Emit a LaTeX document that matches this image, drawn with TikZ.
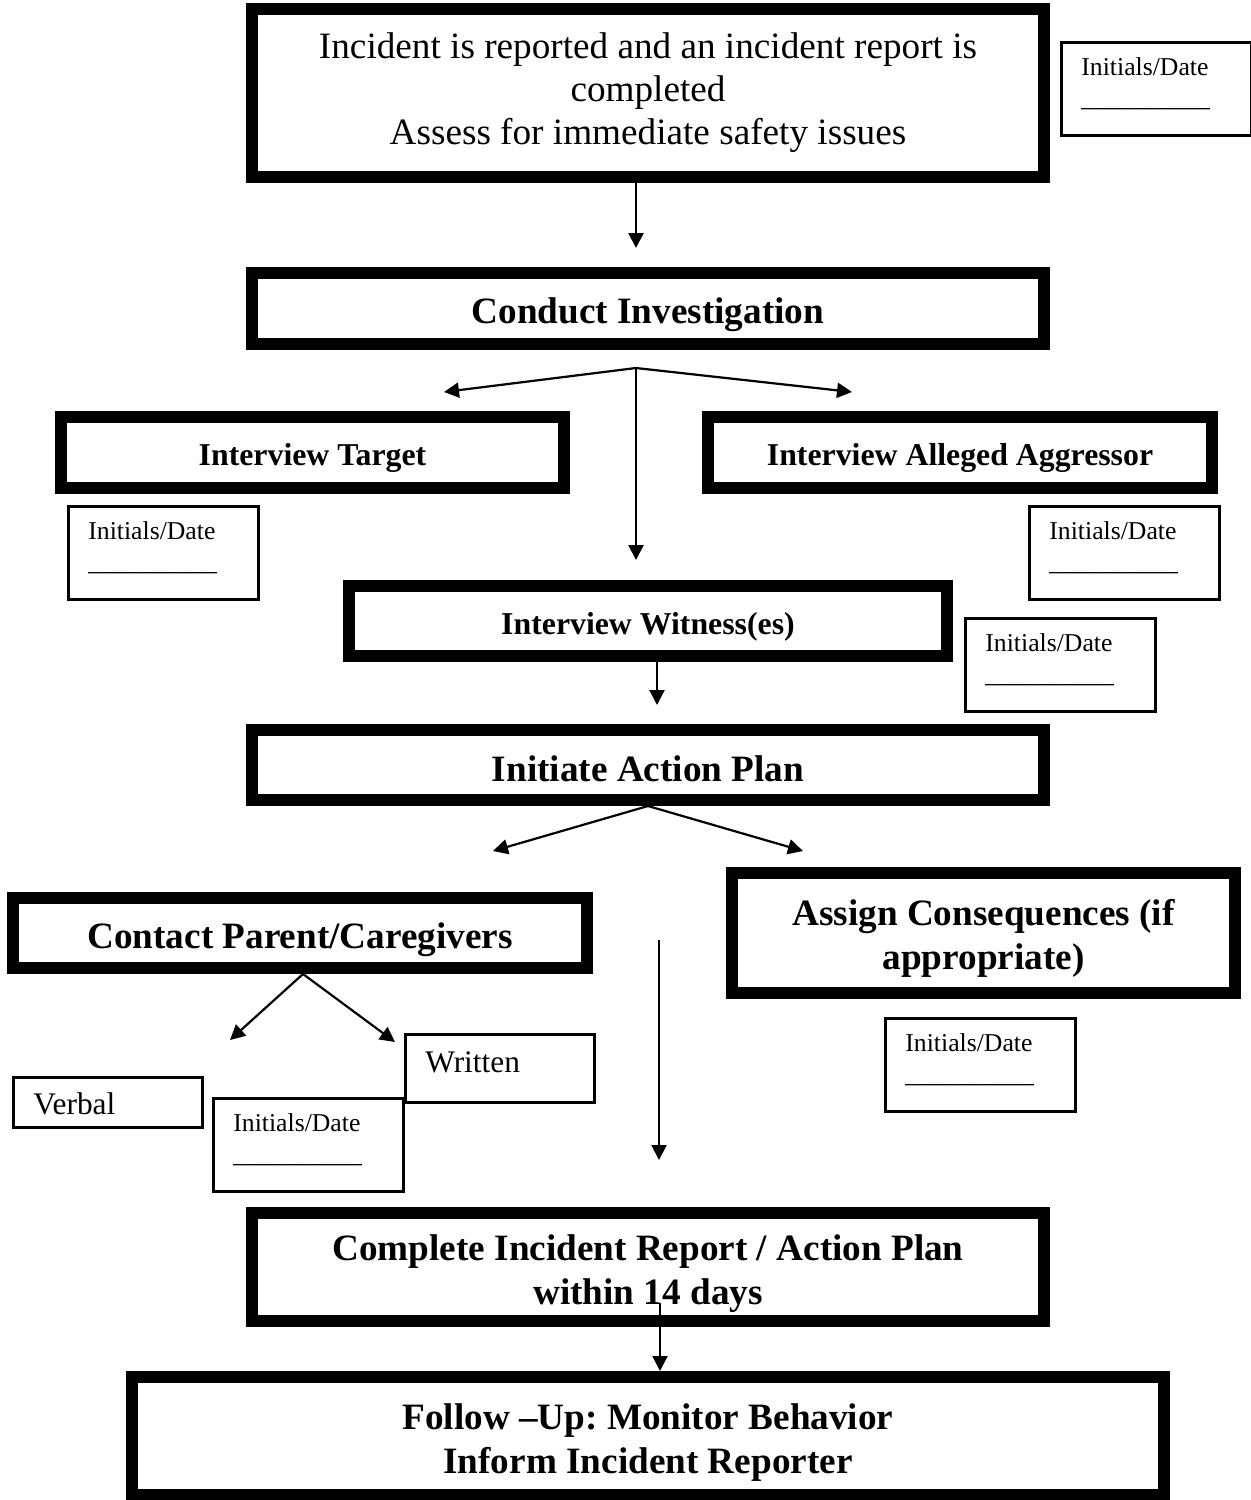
\documentclass[tikz,border=0pt]{standalone}
\usepackage{fontspec}
\setmainfont{Liberation Serif}
\usetikzlibrary{arrows.meta,calc}
\frenchspacing
\newcommand{\stt}{\rule{0pt}{1.04em}}
\newcommand{\sttd}{\rule[-0.15em]{0pt}{0.15em}}
\newcommand{\InitBox}[3]{%
  \node[thinbox, anchor=north west] (#1) at (#2,#3) {};
  \node[small] (#1t) at ($(#1.north west)+(21,34)$) {Initials/Date};
  \node[small] (#1u) at ($(#1.north west)+(21,65)$) {\_\_\_\_\_\_\_\_\_\_};
}
\begin{document}
\begin{tikzpicture}[x=0.5pt,y=-0.5pt,
  bigbox/.style={draw, line width=6pt, inner sep=0pt, align=center},
  big/.style={font=\fontsize{18.6}{21.5}\selectfont},
  bigb/.style={font=\bfseries\fontsize{18.6}{21.8}\selectfont},
  medb/.style={font=\bfseries\fontsize{15.9}{19}\selectfont},
  thinbox/.style={draw, line width=1.5pt, inner sep=0pt, minimum width=95pt, minimum height=46.5pt},
  small/.style={font=\fontsize{12.85}{15}\selectfont, inner sep=0pt, anchor=base west},
  plaintext/.style={font=\fontsize{15.7}{19}\selectfont, inner sep=0pt, anchor=base west},
  arr/.style={line width=1.1pt, -{Triangle[length=7.5pt,width=7.5pt]}}]
\useasboundingbox (0,0) rectangle (1250,1500);

% thick boxes
\node[bigbox, big, minimum width=396pt, minimum height=84pt] (box1) at (648,93)
  {Incident is reported and an incident report is\\ completed\\ Assess for immediate safety issues};
\node[bigbox, bigb, minimum width=396pt, minimum height=35.5pt] (conduct) at (648,308.5) {\stt Conduct Investigation};
\node[bigbox, medb, minimum width=251.5pt, minimum height=35.5pt] (target) at (312.5,452.5) {\stt Interview Target};
\node[bigbox, medb, minimum width=252pt, minimum height=35.5pt] (aggressor) at (960,452.5) {\stt Interview Alleged Aggressor};
\node[bigbox, medb, minimum width=299pt, minimum height=35pt] (witness) at (648,621) {\stt Interview Witness(es)};
\node[bigbox, bigb, minimum width=396pt, minimum height=35pt] (initiate) at (648,765) {\stt Initiate Action Plan\sttd};
\node[bigbox, bigb, minimum width=287pt, minimum height=35pt] (contact) at (300,933) {\stt Contact Parent/Caregivers};
\node[bigbox, bigb, font=\bfseries\fontsize{18.6}{22}\selectfont, minimum width=251.5pt, minimum height=60pt] (assign) at (983.5,933) {\rule{0pt}{0.965em}Assign Consequences (if\\ appropriate)};
\node[bigbox, bigb, minimum width=396pt, minimum height=54pt] (complete) at (648,1267) {\stt Complete Incident Report / Action Plan\\ within 14 days};
\node[bigbox, bigb, minimum width=516pt, minimum height=59pt] (follow) at (648,1436) {\stt Follow –Up: Monitor Behavior\\ Inform Incident Reporter};

% initials boxes
\InitBox{ia}{1060}{41}
\InitBox{ib}{67}{505}
\InitBox{ic}{1028}{505}
\InitBox{id}{964}{617}
\InitBox{ie}{212}{1097}
\InitBox{iff}{884}{1017}

% verbal / written
\node[draw, line width=1.5pt, inner sep=0pt, minimum width=94.5pt, minimum height=25pt] (verbal) at (108,1102.5) {};
\node[plaintext] (verbalt) at (33,1114) {Verbal};
\node[draw, line width=1.5pt, inner sep=0pt, minimum width=94.5pt, minimum height=34pt] (written) at (500,1068.5) {};
\node[plaintext] (writtent) at (425,1072) {Written};

% connectors
\coordinate (a1) at (636,248);
\draw[arr] (box1.south -| a1) -- (a1);

\coordinate (f1) at (636,368);
\coordinate (f1l) at (444,392);
\coordinate (f1r) at (852,392);
\coordinate (f1d) at (636,560);
\draw[arr] (f1) -- (f1l);
\draw[arr] (f1) -- (f1r);
\draw[arr] (f1) -- (f1d);

\coordinate (a2) at (657,705);
\draw[arr] (witness.south -| a2) -- (a2);

\coordinate (f2l) at (493,851);
\coordinate (f2r) at (803,851);
\draw[arr] (initiate.south) -- (f2l);
\draw[arr] (initiate.south) -- (f2r);

\coordinate (f3) at (303,974);
\coordinate (f3l) at (230,1040);
\coordinate (f3r) at (395,1042);
\draw[arr] (f3) -- (f3l);
\draw[arr] (f3) -- (f3r);

\coordinate (l1) at (659,940);
\coordinate (l2) at (659,1160);
\draw[arr] (l1) -- (l2);

\coordinate (a3) at (660,1303);
\draw[arr] (a3) -- (a3 |- follow.north);
\end{tikzpicture}
\end{document}
